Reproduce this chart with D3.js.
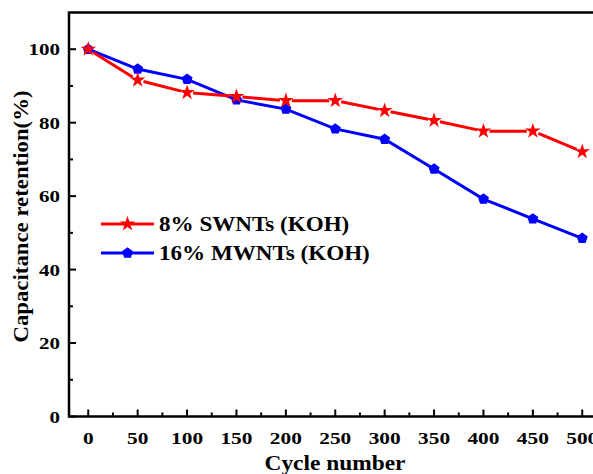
<!DOCTYPE html>
<html>
<head>
<meta charset="utf-8">
<script src="https://cdn.jsdelivr.net/npm/d3@7"></script>
<style>
  body { margin: 0; background: #fff; }
  svg { display: block; }
</style>
</head>
<body>
<script>
const cycles = [0, 50, 100, 150, 200, 250, 300, 350, 400, 450, 500];
const swnt = [100, 91.6, 88.2, 87.1, 86.0, 86.0, 83.3, 80.6, 77.7, 77.7, 72.1];
const mwnt = [100, 94.6, 91.8, 86.2, 83.7, 78.3, 75.5, 67.4, 59.2, 53.8, 48.5];
const xTicks = [0, 50, 100, 150, 200, 250, 300, 350, 400, 450, 500];
const yTicks = [0, 20, 40, 60, 80, 100];
const seriesNames = ["8% SWNTs (KOH)", "16% MWNTs (KOH)"];

function main() {
    const width = 593, height = 474;
    const left = 69, top = 12.5, right = 602, bottom = 416.5;
    const font = "'Liberation Serif', 'Times New Roman', serif";

    const svg = d3.select("body").append("svg")
        .attr("width", width)
        .attr("height", height);

    const x = d3.scaleLinear().domain([-19.5, 520]).range([left, right]);
    const y = d3.scaleLinear().domain([0, 110]).range([bottom, top]);

    // frame
    svg.append("path")
        .attr("d", `M${right},${top}H${left}V${bottom}H${right}`)
        .attr("fill", "none")
        .attr("stroke", "#000")
        .attr("stroke-width", 2.5);

    // x ticks (inward)
    const xMinor = d3.range(25, 520, 50);
    svg.append("g").selectAll("line.maj").data(xTicks).enter().append("line")
        .attr("x1", d => x(d)).attr("x2", d => x(d))
        .attr("y1", bottom).attr("y2", bottom - 7)
        .attr("stroke", "#000").attr("stroke-width", 2);
    svg.append("g").selectAll("line.min").data(xMinor).enter().append("line")
        .attr("x1", d => x(d)).attr("x2", d => x(d))
        .attr("y1", bottom).attr("y2", bottom - 4)
        .attr("stroke", "#000").attr("stroke-width", 2);
    svg.append("g").selectAll("text").data(xTicks).enter().append("text")
        .attr("transform", d => `translate(${x(d)},444) scale(1.22,1)`)
        .attr("text-anchor", "middle")
        .attr("font-family", font).attr("font-weight", "bold").attr("font-size", "17.5px")
        .text(d => d);

    // y ticks
    const yMinor = d3.range(10, 110, 20);
    svg.append("g").selectAll("line.maj").data(yTicks).enter().append("line")
        .attr("x1", left).attr("x2", left + 7)
        .attr("y1", d => y(d)).attr("y2", d => y(d))
        .attr("stroke", "#000").attr("stroke-width", 2);
    svg.append("g").selectAll("line.min").data(yMinor).enter().append("line")
        .attr("x1", left).attr("x2", left + 4)
        .attr("y1", d => y(d)).attr("y2", d => y(d))
        .attr("stroke", "#000").attr("stroke-width", 2);
    svg.append("g").selectAll("text").data(yTicks).enter().append("text")
        .attr("transform", d => `translate(60,${y(d) + 6}) scale(1.2,1)`)
        .attr("text-anchor", "end")
        .attr("font-family", font).attr("font-weight", "bold").attr("font-size", "17.5px")
        .text(d => d);

    // axis titles
    svg.append("text")
        .attr("transform", "translate(335,470) scale(1.17,1)")
        .attr("text-anchor", "middle")
        .attr("font-family", font).attr("font-weight", "bold").attr("font-size", "20px")
        .text("Cycle number");
    svg.append("text")
        .attr("transform", `translate(28,${(top + bottom) / 2 + 2}) rotate(-90) scale(1.14,1)`)
        .attr("text-anchor", "middle")
        .attr("font-family", font).attr("font-weight", "bold").attr("font-size", "20px")
        .text("Capacitance retention(%)");

    const star = d3.symbol().type(d3.symbolStar).size(75);
    const penta = d3.symbol().type({
        draw(ctx, size) {
            const r = Math.sqrt(size / 2.4);
            for (let i = 0; i < 5; i++) {
                const a = -Math.PI / 2 + i * 2 * Math.PI / 5;
                i ? ctx.lineTo(r * Math.cos(a), r * Math.sin(a)) : ctx.moveTo(r * Math.cos(a), r * Math.sin(a));
            }
            ctx.closePath();
        }
    }).size(80);

    // blue series: continuous line
    const mPts = cycles.map((c, i) => [x(c), y(mwnt[i])]);
    svg.append("path")
        .attr("d", d3.line()(mPts))
        .attr("fill", "none").attr("stroke", "#0000ff").attr("stroke-width", 3);

    // red series: segments with gaps around markers
    const sPts = cycles.map((c, i) => [x(c), y(swnt[i])]);
    const gap = 6;
    const segs = d3.pairs(sPts).map(([a, b]) => {
        const dx = b[0] - a[0], dy = b[1] - a[1], L = Math.hypot(dx, dy);
        const ux = dx / L, uy = dy / L;
        return [a[0] + ux * gap, a[1] + uy * gap, b[0] - ux * gap, b[1] - uy * gap];
    });
    svg.append("g").selectAll("line").data(segs).enter().append("line")
        .attr("x1", d => d[0]).attr("y1", d => d[1])
        .attr("x2", d => d[2]).attr("y2", d => d[3])
        .attr("stroke", "#ff0000").attr("stroke-width", 3);

    svg.append("g").selectAll("path").data(mPts).enter().append("path")
        .attr("d", penta)
        .attr("transform", d => `translate(${d[0]},${d[1]})`)
        .attr("fill", "#0000ff");
    svg.append("g").selectAll("path").data(sPts).enter().append("path")
        .attr("d", star)
        .attr("transform", d => `translate(${d[0]},${d[1]})`)
        .attr("fill", "#ff0000");

    // legend
    const legend = [
        { name: seriesNames[0], color: "#ff0000", sym: star, yy: 224 },
        { name: seriesNames[1], color: "#0000ff", sym: penta, yy: 253 }
    ];
    const lg = svg.append("g").selectAll("g").data(legend).enter().append("g");
    lg.append("line")
        .attr("x1", 101).attr("x2", 154)
        .attr("y1", d => d.yy).attr("y2", d => d.yy)
        .attr("stroke", d => d.color).attr("stroke-width", 3);
    lg.append("path")
        .attr("d", d => d.sym())
        .attr("transform", d => `translate(127.5,${d.yy})`)
        .attr("fill", d => d.color);
    lg.append("text")
        .attr("transform", d => `translate(159,${d.yy + 7}) scale(1.1,1)`)
        .attr("font-family", font).attr("font-weight", "bold").attr("font-size", "21px")
        .text(d => d.name);
}

main();
</script>
</body>
</html>
